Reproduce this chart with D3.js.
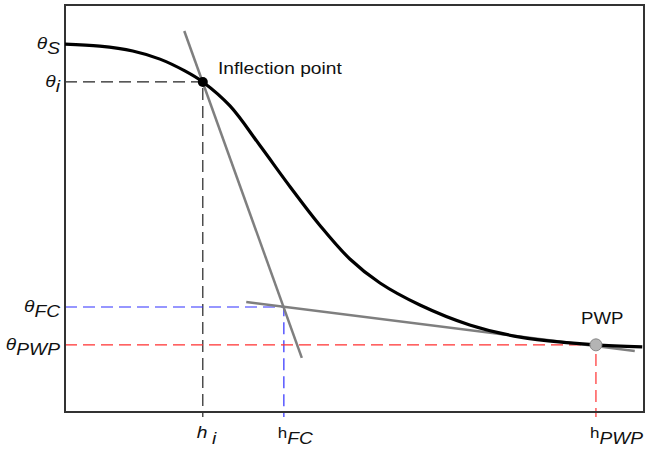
<!DOCTYPE html>
<html lang="en">
<head>
<meta charset="utf-8">
<title>Soil water retention curve</title>
<script src="https://cdn.jsdelivr.net/npm/d3@7"></script>
<style>
body { margin: 0; background: #fff; }
text { font-family: "Liberation Sans", Arial, sans-serif; fill: #111; }
.lbl { font-style: italic; font-size: 17px; }
</style>
</head>
<body>
<script>
// curve (h and theta on a 0..100 scale)
var curveH     = [0, 6.0, 11.7, 16.4, 20.7, 23.8, 28.5, 33.7, 38.9, 44.0, 49.2, 54.4, 61.3, 69.9, 78.6, 87.2, 91.7, 99.7];
var curveTheta = [90.4, 89.9, 88.7, 86.7, 83.8, 81.1, 75.2, 65.4, 55.3, 45.9, 37.6, 31.7, 26.3, 21.4, 18.4, 17.0, 16.5, 16.0];

// tangent lines
var tangentInflH     = [20.6, 40.9];
var tangentInflTheta = [93.6, 13.3];
var tangentPwpH      = [31.3, 98.4];
var tangentPwpTheta  = [27.0, 15.0];

// marked points
var pointNames = ["i", "FC", "PWP"];
var pointH     = [23.8, 37.8, 91.7];
var pointTheta = [81.1, 25.8, 16.5];
var pointColors = ["#222", "#2f2fff", "#ff3030"];

// theta labels on the left
var yTickValues = [90.4, 81.1, 25.8, 16.5];
var yTickSubs   = ["S", "i", "FC", "PWP"];
// h labels below
var xTickValues = [23.8, 37.8, 91.7];
var xTickSubs   = ["i", "FC", "PWP"];

var w = 652, h = 455;
var mLeft = 65, mRight = 644, mTop = 5, mBottom = 412;
var sx = 1.13; // text in the picture is stretched a bit

var x = d3.scaleLinear().domain([0, 100]).range([mLeft, mRight]);
var y = d3.scaleLinear().domain([0, 100]).range([mBottom, mTop]);

var svg = d3.select("body").append("svg")
    .attr("width", w)
    .attr("height", h);

// dashed guide lines
pointNames.forEach(function(n, i) {
    var px = x(pointH[i]), py = y(pointTheta[i]);
    svg.append("path")
        .attr("d", "M" + mLeft + "," + py + "H" + px + "V" + (mBottom + 5))
        .attr("fill", "none")
        .attr("stroke", pointColors[i])
        .attr("stroke-width", 1.2)
        .attr("stroke-dasharray", "12,6");
});

// frame
svg.append("rect")
    .attr("x", mLeft).attr("y", mTop)
    .attr("width", mRight - mLeft).attr("height", mBottom - mTop)
    .attr("fill", "none")
    .attr("stroke", "#333")
    .attr("stroke-width", 2);

var line = d3.line()
    .x(function(d) { return x(d[0]); })
    .y(function(d) { return y(d[1]); });

// tangents
svg.append("path")
    .attr("d", line(d3.zip(tangentInflH, tangentInflTheta)))
    .attr("stroke", "#7f7f7f").attr("stroke-width", 2.5).attr("fill", "none");
svg.append("path")
    .attr("d", line(d3.zip(tangentPwpH, tangentPwpTheta)))
    .attr("stroke", "#7f7f7f").attr("stroke-width", 2.5).attr("fill", "none");

// retention curve
svg.append("path")
    .attr("d", line.curve(d3.curveCatmullRom.alpha(0.5))(d3.zip(curveH, curveTheta)))
    .attr("stroke", "#000").attr("stroke-width", 3.2).attr("fill", "none");

// inflection point and PWP
svg.append("circle")
    .attr("cx", x(pointH[0])).attr("cy", y(pointTheta[0])).attr("r", 5)
    .attr("fill", "#000");
svg.append("circle")
    .attr("cx", x(pointH[2])).attr("cy", y(pointTheta[2])).attr("r", 6)
    .attr("fill", "#b4b4b4").attr("stroke", "#888").attr("stroke-width", 1);

function stretched(px, py) {
    return svg.append("g")
        .attr("transform", "translate(" + px + "," + py + ") scale(" + sx + ",1)")
        .append("text");
}

stretched(218, 74).style("font-size", "17px").text("Inflection point");
stretched(581, 324).style("font-size", "16.5px").text("PWP");

// theta labels
yTickValues.forEach(function(v, i) {
    var t = stretched(60, y(v) + 5)
        .attr("class", "lbl")
        .attr("text-anchor", "end");
    t.append("tspan").text("\u03b8");
    t.append("tspan").attr("dy", 5).text(yTickSubs[i]);
});

// h labels
xTickValues.forEach(function(v, i) {
    var t = stretched(x(v) - 6, 438).attr("class", "lbl");
    if (i == 0) {
        t.append("tspan").text("h");
        t.append("tspan").attr("dx", 4).attr("dy", 6).text(xTickSubs[i]);
    } else {
        t.append("tspan").style("font-style", "normal").style("font-size", "15px").text("h");
        t.append("tspan").attr("dy", 6).text(xTickSubs[i]);
    }
});
</script>
</body>
</html>
